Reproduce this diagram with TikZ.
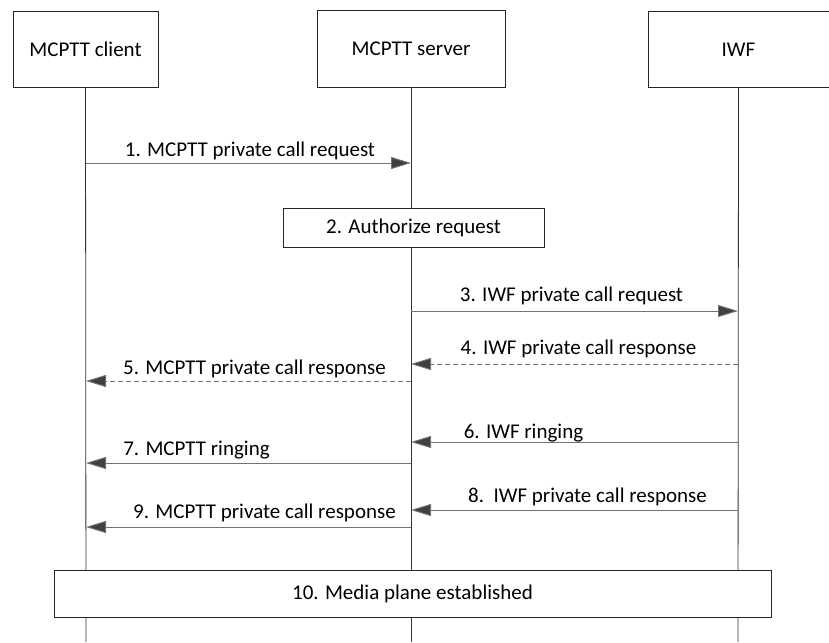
\documentclass[tikz,border=0pt]{standalone}
\usepackage{fontspec}
\setmainfont{Carlito}
\usetikzlibrary{arrows.meta,positioning}

\begin{document}
\begin{tikzpicture}[x=1pt,y=-1pt,
every node/.style={font=\fontsize{21}{24}\selectfont},
entity/.style={draw=black!85,line width=.9pt,minimum width=145pt,minimum height=76pt,inner sep=0pt},
actbox/.style={draw=black!85,line width=.9pt,inner sep=0pt},
life/.style={draw=black!80,line width=.8pt},
msg/.style={draw=black!55,line width=.9pt,-{Triangle[length=20pt,width=12pt,fill=black!75]}},
reply/.style={msg,dash pattern=on 5pt off 3pt},
lbl/.style={inner sep=0pt,anchor=base}]
\useasboundingbox (0,0) rectangle (829,642);
% participants
\node[entity] (C) at (85.5,49.5) {MCPTT client};
\node[entity,minimum width=188pt,minimum height=77pt] (S) at (411,48.5) {MCPTT server};
\node[entity,minimum width=181pt,minimum height=76pt] (I) at (738.5,49.5) {IWF};
\coordinate (Cend) at (86,642);
\coordinate (Send) at (411,642);
\coordinate (Iend) at (738,642);
\draw[life] (C.south) -- (Cend);
\draw[life] (S.south) -- (Send);
\draw[life] (I.south) -- (Iend);
% boxes on the lines
\node[actbox,fill=white,minimum width=261pt,minimum height=39pt] (A2) at (413.5,227.5) {2. Authorize request};
\node[actbox,fill=white,minimum width=717pt,minimum height=47pt] (A10) at (412.5,593.5) {10. Media plane established};
% messages
\coordinate (C1) at (86,163); \coordinate (S1) at (411,163);
\coordinate (S3) at (411,311); \coordinate (I3) at (738,311);
\coordinate (I4) at (738,364); \coordinate (S4) at (411,364);
\coordinate (S5) at (411,381); \coordinate (C5) at (86,381);
\coordinate (I6) at (738,442); \coordinate (S6) at (411,442);
\coordinate (S7) at (411,463); \coordinate (C7) at (86,463);
\coordinate (I8) at (738,510); \coordinate (S8) at (411,510);
\coordinate (S9) at (411,527); \coordinate (C9) at (86,527);
\draw[msg] (C1) -- (S1);
\draw[msg] (S3) -- (I3);
\draw[reply] (I4) -- (S4);
\draw[reply] (S5) -- (C5);
\draw[msg] (I6) -- (S6);
\draw[msg] (S7) -- (C7);
\draw[msg] (I8) -- (S8);
\draw[msg] (S9) -- (C9);
% message texts
\node[lbl] (L1) at (250,156) {1. MCPTT private call request};
\node[lbl] (L3) at (571.5,301) {3. IWF private call request};
\node[lbl] (L4) at (578.5,354) {4. IWF private call response};
\node[lbl] (L5) at (254.5,374) {5. MCPTT private call response};
\node[lbl] (L6) at (523.5,438) {6. IWF ringing};
\node[lbl] (L7) at (196.5,455) {7. MCPTT ringing};
\node[lbl] (L8) at (587.5,502) {8.\ \ IWF private call response};
\node[lbl] (L9) at (264.5,518) {9. MCPTT private call response};
\end{tikzpicture}
\end{document}
